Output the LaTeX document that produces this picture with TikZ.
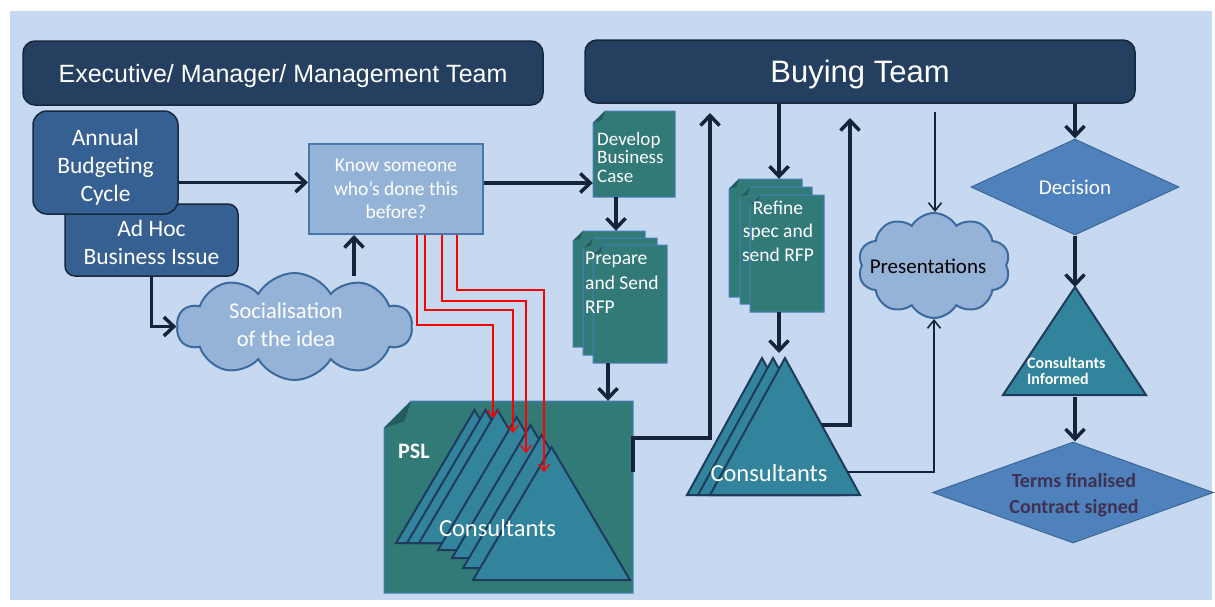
\documentclass[tikz,border=0pt]{standalone}
\usepackage{fontspec}
\setmainfont{Carlito}
\newfontfamily\arialf{Liberation Sans}
\usetikzlibrary{arrows.meta,shapes.geometric,shapes.symbols,fit}
\definecolor{bgblue}{HTML}{C6D9F1}
\definecolor{navyfill}{HTML}{243F60}
\definecolor{navyline}{HTML}{17283D}
\definecolor{midblue}{HTML}{366092}
\definecolor{lightbox}{HTML}{95B3D7}
\definecolor{lightline}{HTML}{4A76AE}
\definecolor{cloudline}{HTML}{3C6A9E}
\definecolor{docteal}{HTML}{317A78}
\definecolor{docline}{HTML}{4A7EBB}
\definecolor{foldteal}{HTML}{245C5B}
\definecolor{triteal}{HTML}{31849B}
\definecolor{triline}{HTML}{1F3B5C}
\definecolor{decblue}{HTML}{4F81BD}
\definecolor{decline}{HTML}{3E6896}
\definecolor{termtext}{HTML}{3F3151}
\definecolor{arrowdark}{HTML}{16243A}
\tikzset{
  titlebox/.style={fill=navyfill, draw=navyline, line width=1.5pt, rounded corners=12pt, inner sep=0pt, text=white, text depth=0pt},
  issuebox/.style={fill=midblue, draw=navyline, line width=1.5pt, rounded corners=14pt, text=white, align=center, inner sep=0pt, font=\fontsize{23.5}{28}\selectfont},
  knowbox/.style={fill=lightbox, draw=lightline, line width=2pt, text=white, align=center, inner sep=0pt, font=\fontsize{19.5}{23.5}\selectfont},
  cloudshape/.style={cloud, cloud puffs=10, cloud puff arc=120, cloud ignores aspect, fill=lightbox, draw=cloudline, line width=2pt, inner sep=0pt},
  docface/.style={fill=docteal, draw=docline, line width=1pt},
  trishape/.style={fill=triteal, draw=triline, line width=2pt, line join=miter},
  diamondshape/.style={diamond, fill=decblue, draw=decline, line width=1pt, inner sep=0pt},
  bigarrow/.style={draw=arrowdark, line width=3.5pt, -{Straight Barb[length=10pt,width=19pt]}},
  thinarrow/.style={draw=arrowdark, line width=1.6pt, -{Straight Barb[length=8pt,width=13pt]}},
  redarrow/.style={draw=red, line width=1.3pt, -{Straight Barb[length=7pt,width=11pt]}},
  whitetext/.style={text=white, inner sep=0pt}
}
\newcommand\docbox[6]{%
  \path[docface] (#2,#3+#6) -- (#2+#6,#3) -- (#4,#3) -- (#4,#5) -- (#2,#5) -- cycle;
  \fill[foldteal] (#2,#3+#6) -- (#2+#6,#3) -- (#2+0.75*#6,#3+0.75*#6) -- cycle;
  \node[fit={(#2,#3) (#4,#5)}, inner sep=0pt] (#1) {};}
\begin{document}
\begin{tikzpicture}[x=1pt,y=-1pt]
\useasboundingbox (0,0) rectangle (1215,606);
\fill[white] (0,0) rectangle (1215,606);
\fill[bgblue] (10,11) rectangle (1212,600);

% title bars
\node[titlebox, minimum width=520, minimum height=64, font=\arialf\fontsize{25}{30}\selectfont] (exec) at (283,73) {Executive/ Manager/ Management Team};
\node[titlebox, minimum width=550, minimum height=63, font=\arialf\fontsize{31}{36}\selectfont] (buying) at (860,71.5) {Buying Team};

% issue boxes
\node[issuebox, minimum width=173, minimum height=72, rounded corners=10pt] (adhoc) at (151.5,240) {\\[-6pt]Ad Hoc\\Business Issue};
\node[issuebox, minimum width=145, minimum height=103] (annual) at (105.5,162.5) {};
\node[whitetext, align=center, font=\fontsize{23.5}{28}\selectfont] (annualtext) at (105.5,167) {Annual\\Budgeting\\Cycle};

\node[knowbox, minimum width=174, minimum height=90] (know) at (396,189) {Know someone\\who’s done this\\before?};

% clouds
\node[cloudshape, minimum width=235, minimum height=107] (soc) at (294.5,326.5) {};
\node[whitetext, align=center, font=\fontsize{22.5}{28}\selectfont] (soctext) at (286,325) {Socialisation\\of the idea};
\node[cloudshape, minimum width=152, minimum height=105] (pres) at (934,265.5) {};
\node[inner sep=0pt, text=black, font=\fontsize{21}{25}\selectfont] (prestext) at (928,266) {Presentations};

% documents
\docbox{dev}{593}{111}{675}{197}{12}
\node[whitetext, anchor=west, align=left, font=\fontsize{19}{18.5}\selectfont] (devtext) at (597,157) {Develop\\Business\\Case};

\docbox{prepA}{573}{231}{645}{347}{10}
\docbox{prepB}{583}{238}{657}{355}{10}
\docbox{prepC}{593}{245}{667}{363}{10}
\node[whitetext, anchor=west, align=left, font=\fontsize{19.5}{24.5}\selectfont] (preptext) at (585,283) {Prepare\\and Send\\RFP};

\docbox{refA}{729}{179}{802}{297}{10}
\docbox{refB}{740}{187}{812}{304}{10}
\docbox{refC}{750}{195}{824}{312}{10}
\node[whitetext, align=center, font=\fontsize{19.5}{23.5}\selectfont] (reftext) at (778,231) {Refine\\spec and\\send RFP};

% PSL
\docbox{psl}{384}{401}{633}{593}{27}
\node[whitetext, anchor=west, font=\bfseries\fontsize{22}{26}\selectfont] (psltext) at (398,451) {PSL};
\foreach \bx/\by in {396/543,407/543,419/543,438/550,452/558,463/568,473/580}
  \path[trishape] (\bx,\by) -- (\bx+78.5,\by-133) -- (\bx+157,\by) -- cycle;
\node[whitetext, font=\fontsize{24.5}{28}\selectfont] (pslcons) at (497.5,528) {Consultants};

\coordinate (t1) at (493,418);
\coordinate (t2) at (513,433);
\coordinate (t3) at (526,453);
\coordinate (t4) at (544,472);
\draw[redarrow] ([xshift=21pt]know.south) -- ++(0,90) -| (t1);
\draw[redarrow] ([xshift=29pt]know.south) -- ++(0,75) -| (t2);
\draw[redarrow] ([xshift=46pt]know.south) -- ++(0,66) -| (t3);
\draw[redarrow] ([xshift=61pt]know.south) -- ++(0,55) -| (t4);

% consultants (shortlist)
\foreach \bx in {687,698,710}
  \path[trishape] (\bx,495) -- (\bx+75,358) -- (\bx+150,495) -- cycle;
\node[whitetext, font=\fontsize{24.5}{28}\selectfont] (c2text) at (769,473) {Consultants};

% decision column
\node[diamondshape, minimum width=208, minimum height=96] (dec) at (1075,187) {};
\node[whitetext, font=\fontsize{21}{25}\selectfont] (dectext) at (1075,187) {Decision};
\path[trishape] (1003,395) -- (1075,287) -- (1146,395) -- cycle;
\coordinate (ciapex) at (1075,287);
\coordinate (cibase) at (1075,397);
\node[whitetext, anchor=west, align=left, font=\bfseries\fontsize{16}{16.5}\selectfont] (citext) at (1027,371) {Consultants\\Informed};
\node[diamondshape, minimum width=281, minimum height=101] (terms) at (1073,492.5) {};
\node[inner sep=0pt, text=termtext, align=center, font=\bfseries\fontsize{20}{26.5}\selectfont] (termstext) at (1074,495) {Terms finalised\\Contract signed};

% connectors
\path ([yshift=-20pt]annual.east) coordinate (a1);
\draw[bigarrow] (a1) -- (a1 -| know.west);
\path ([yshift=6pt]know.east) coordinate (k1);
\draw[bigarrow] (k1) -- (k1 -| dev.west);
\draw[bigarrow] (adhoc.south) |- (soc.west);
\coordinate (s1) at (354,276);
\draw[bigarrow] (s1) -- (s1 |- know.south);
\coordinate (d1) at (616,197);
\draw[bigarrow] (d1) -- (d1 |- prepA.north);
\coordinate (p1) at (608,363);
\draw[bigarrow] (p1) -- (p1 |- psl.north);
\coordinate (up1) at (710,113);
\draw[bigarrow] ([yshift=25pt]psl.east) -- ++(0,-34) -| (up1);
\coordinate (c2top) at (779,353);
\draw[bigarrow] (buying.south -| c2top) -- (refA.north -| c2top);
\draw[bigarrow] (refC.south -| c2top) -- (c2top);
\coordinate (c2r1) at (822,425);
\coordinate (up2) at (850,118);
\draw[bigarrow] (c2r1) -| (up2);
\coordinate (c2r2) at (847,472);
\draw[thinarrow] (c2r2) -| (pres.south);
\coordinate (bt2) at (935,112);
\draw[thinarrow] (bt2) -- (bt2 |- pres.north);
\draw[bigarrow] (buying.south -| dec.north) -- (dec.north);
\draw[bigarrow] (dec.south) -- (ciapex);
\draw[bigarrow] (cibase) -- (terms.north -| cibase);
\end{tikzpicture}
\end{document}
